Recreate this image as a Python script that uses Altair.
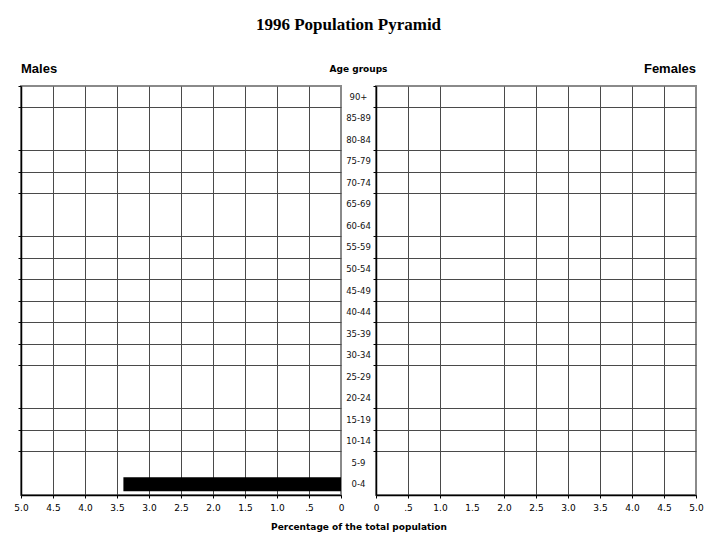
import altair as alt
import pandas as pd

ages = ["90+", "85-89", "80-84", "75-79", "70-74", "65-69", "60-64", "55-59",
        "50-54", "45-49", "40-44", "35-39", "30-34", "25-29", "20-24", "15-19",
        "10-14", "5-9", "0-4"]
male_pct = [0, 0, 0, 0, 0, 0, 0, 0, 0, 0, 0, 0, 0, 0, 0, 0, 0, 0, 3.4]
female_pct = [0, 0, 0, 0, 0, 0, 0, 0, 0, 0, 0, 0, 0, 0, 0, 0, 0, 0, 0]
tick_values = [0, 0.5, 1.0, 1.5, 2.0, 2.5, 3.0, 3.5, 4.0, 4.5, 5.0]
rows_without_line = ["90+", "80-84", "60-64", "20-24", "0-4"]
male_cols_without_line = [0, 5]
female_cols_without_line = [0, 1.5, 5]

male_df = pd.DataFrame({"age": ages, "pct": male_pct})
female_df = pd.DataFrame({"age": ages, "pct": female_pct})
mid_df = pd.DataFrame({"age": ages})

SANS = "DejaVu Sans"
GRID = "#4a4a4a"
label_expr = "datum.value == 0 ? '0' : (datum.value < 1 ? '.5' : format(datum.value, '.1f'))"
W, H, MIDW = 320, 409, 35


def row_cond(hidden, color):
    arr = ",".join("'%s'" % h for h in hidden)
    return {"condition": {"test": "indexof([%s], datum.value) >= 0" % arr, "value": "transparent"},
            "value": color}


def col_cond(hidden, color):
    arr = ",".join(str(h) for h in hidden)
    return {"condition": {"test": "indexof([%s], datum.value) >= 0" % arr, "value": "transparent"},
            "value": color}


def y_enc():
    return alt.Y("age:N", sort=ages,
                 scale=alt.Scale(paddingInner=0, paddingOuter=0),
                 axis=alt.Axis(labels=False, title=None, orient="left", bandPosition=0,
                               grid=True, gridColor=row_cond(rows_without_line, GRID),
                               gridWidth=1, tickColor=row_cond(rows_without_line[1:], "black"),
                               tickSize=3, domainColor="black", domainWidth=1.5))


def x_enc(reverse, hidden):
    tick_hidden = [h for h in hidden if h not in (0, 5)]
    return alt.X("pct:Q",
                 scale=alt.Scale(domain=[0, 5], reverse=reverse, nice=False, zero=True),
                 axis=alt.Axis(values=tick_values, labelExpr=label_expr, title=None,
                               grid=True, gridColor=col_cond(hidden, GRID), gridWidth=1,
                               tickColor=col_cond(tick_hidden if tick_hidden else [99], "black"),
                               tickSize=3, domainColor="black", domainWidth=1.5,
                               labelFont=SANS, labelFontSize=9, labelColor="black",
                               labelPadding=5, labelFlush=False))


male = alt.Chart(male_df).mark_bar(color="black", height={"band": 0.65}).encode(
    x=x_enc(True, male_cols_without_line),
    y=y_enc(),
).properties(width=W, height=H,
             title=alt.TitleParams("Males", anchor="start", frame="group", font="Liberation Sans",
                                   fontSize=13, fontWeight="bold", offset=10, color="black"))

female = alt.Chart(female_df).mark_bar(color="black", height={"band": 0.65}).encode(
    x=x_enc(False, female_cols_without_line),
    y=y_enc(),
).properties(width=W, height=H,
             title=alt.TitleParams("Females", anchor="end", frame="group", font="Liberation Sans",
                                   fontSize=13, fontWeight="bold", offset=10, color="black"))

mid = alt.Chart(mid_df).transform_calculate(mid="0.5").mark_text(
    font=SANS, fontSize=8.5, color="#111", align="center", baseline="middle"
).encode(
    x=alt.X("mid:Q", scale=alt.Scale(domain=[0, 1]),
            axis=alt.Axis(labels=False, ticks=False, domain=False, grid=False,
                          title="Percentage of the total population",
                          titleFont=SANS, titleFontSize=9, titleFontWeight="bold",
                          titleColor="black", titlePadding=27)),
    y=alt.Y("age:N", sort=ages, scale=alt.Scale(paddingInner=0, paddingOuter=0), axis=None),
    text="age:N",
).properties(width=MIDW, height=H, view=alt.ViewBackground(strokeWidth=0),
             title=alt.TitleParams("Age groups", anchor="middle", font=SANS,
                                   fontSize=9, fontWeight="bold", offset=12, color="black"))

chart = alt.hconcat(male, mid, female, spacing=0, bounds="flush").properties(
    title=alt.TitleParams("1996 Population Pyramid", font="Liberation Serif", fontSize=17,
                          fontWeight="bold", anchor="middle", color="black", offset=28, dx=-10),
    padding={"left": 4, "top": 7, "right": 5, "bottom": 5},
).configure_view(stroke="#8a8a8a", strokeWidth=2)

chart.save("out.html", embed_options={"renderer": "svg", "actions": False})
